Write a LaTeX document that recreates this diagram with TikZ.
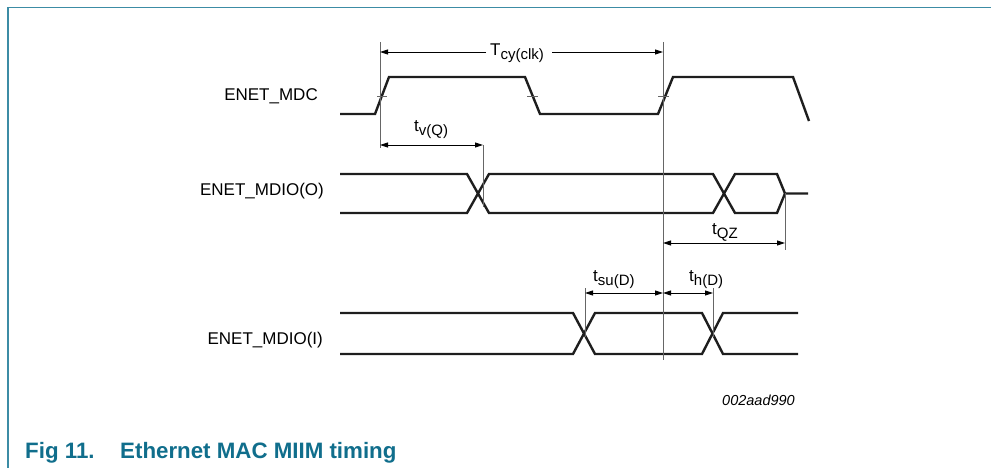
\documentclass[tikz,border=0pt]{standalone}
\usepackage{fontspec}
\setmainfont{Liberation Sans}
\usetikzlibrary{arrows.meta}
\definecolor{framec}{RGB}{60,140,165}
\definecolor{captc}{RGB}{16,110,140}
\definecolor{sigc}{RGB}{30,30,30}
\newcommand{\sbx}[1]{\raisebox{-4pt}{\fontsize{15}{15}\selectfont #1}}
\begin{document}
\begin{tikzpicture}[x=1pt,y=-1pt,
  sig/.style={line width=2.4pt, draw=sigc},
  refl/.style={line width=0.9pt, draw=black!60},
  tickl/.style={line width=0.9pt, draw=black!60},
  arrtip/.tip={Triangle[length=8pt,width=5pt]},
  dimarr/.style={line width=0.9pt, arrtip-arrtip},
  onearr/.style={line width=0.9pt, -arrtip},
  lbl/.style={font=\fontsize{17}{17}\selectfont, inner sep=0pt, anchor=base east},
  tlbl/.style={font=\fontsize{17}{17}\selectfont, inner sep=0pt, anchor=base west},
  capt/.style={font=\fontsize{22.3}{22.3}\selectfont\bfseries, text=captc, inner sep=0pt, anchor=base west},
]
\useasboundingbox (0,0) rectangle (991,468);
% frame
\draw[framec, line width=1.6pt] (8,468) -- (8,7.5) -- (991,7.5);

% signal labels
\node[lbl] (mdc) at (318,101) {ENET\_MDC};
\node[lbl] (mdioo) at (324,195) {ENET\_MDIO(O)};
\node[lbl] (mdioi) at (323,344) {ENET\_MDIO(I)};

% MDC clock
\draw[sig] (340,114) -- (375,114) -- (389,77) -- (525,77) -- (540,114) -- (658,114) -- (673,77) -- (793,77) -- (809,121);
\draw[tickl] (377,96) -- (387,96);
\draw[tickl] (527,96) -- (538,96);
\draw[tickl] (658,96) -- (669,96);

% MDIO(O)
\draw[sig] (340,174) -- (467,174) -- (489,213) -- (713,213) -- (735,174) -- (777,174) -- (785,193.5) -- (808,193.5);
\draw[sig] (340,213) -- (467,213) -- (489,174) -- (713,174) -- (735,213) -- (777,213) -- (785,193.5);

% MDIO(I)
\draw[sig] (340,313) -- (573,313) -- (595,354) -- (702,354) -- (723,313) -- (798,313);
\draw[sig] (340,354) -- (573,354) -- (595,313) -- (702,313) -- (723,354) -- (798,354);

% reference lines
\coordinate (r1t) at (380,42);  \coordinate (r1b) at (380,148);
\coordinate (r2t) at (663,42);  \coordinate (r2b) at (663,360);
\coordinate (r3t) at (483,145); \coordinate (r3b) at (483,207);
\coordinate (r4t) at (785,193); \coordinate (r4b) at (785,250);
\coordinate (r5t) at (585,288); \coordinate (r5b) at (585,337);
\coordinate (r6t) at (713,288); \coordinate (r6b) at (713,337);
\draw[refl] (r1t) -- (r1b);
\draw[refl] (r2t) -- (r2b);
\draw[refl] (r3t) -- (r3b);
\draw[refl] (r4t) -- (r4b);
\draw[refl] (r5t) -- (r5b);
\draw[refl] (r6t) -- (r6b);

% T cy(clk)
\coordinate (ta) at (380,52); \coordinate (tb) at (663,52);
\coordinate (tg1) at (486,52); \coordinate (tg2) at (552,52);
\node[tlbl] (tcy) at (490,56) {T\sbx{cy(clk)}};
\draw[onearr] (tg1) -- (ta);
\draw[onearr] (tg2) -- (tb);

% tv(Q)
\coordinate (va) at (380,145); \coordinate (vb) at (483,145);
\draw[dimarr] (va) -- (vb);
\node[tlbl] (tv) at (414,132) {t\sbx{v(Q)}};

% tQZ
\coordinate (qa) at (663,243); \coordinate (qb) at (785,243);
\draw[dimarr] (qa) -- (qb);
\node[tlbl] (tqz) at (712,234) {t\sbx{QZ}};

% tsu(D), th(D)
\coordinate (sa) at (585,293); \coordinate (sb) at (663,293); \coordinate (hb) at (713,293);
\draw[dimarr] (sa) -- (sb);
\draw[dimarr] (sb) -- (hb);
\node[tlbl] (tsu) at (593,281) {t\sbx{su(D)}};
\node[tlbl] (th) at (689,281) {t\sbx{h(D)}};

% figure id
\node[font=\fontsize{14.5}{14.5}\selectfont\itshape, inner sep=0pt, anchor=base west] (fid) at (722,405) {002aad990};

% caption
\node[capt] (figno) at (25,458) {Fig 11.};
\node[capt] (cap) at (120,458) {Ethernet MAC MIIM timing};
\end{tikzpicture}
\end{document}
